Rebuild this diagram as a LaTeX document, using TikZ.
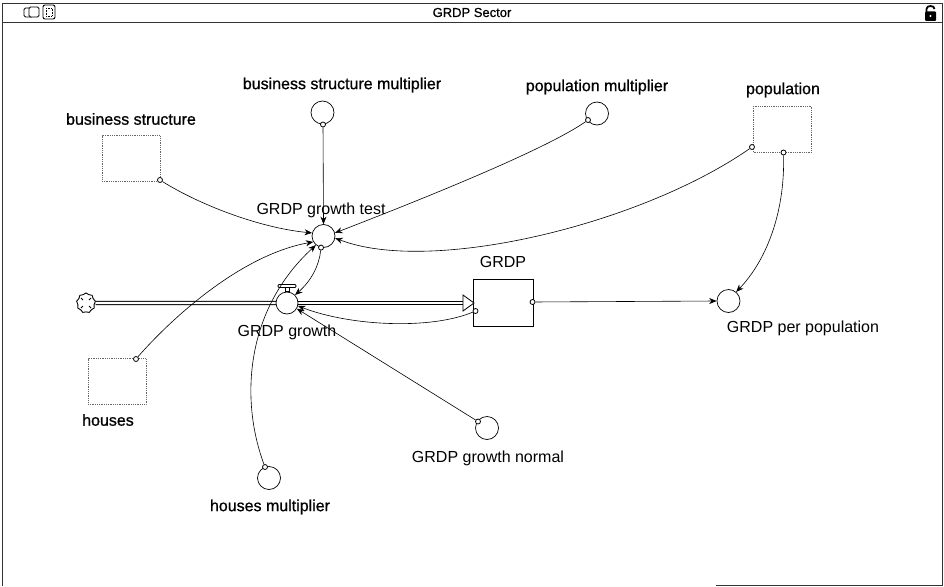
\documentclass[tikz,border=0pt]{standalone}
\usepackage{fontspec}
\setmainfont{Liberation Sans}
\newfontfamily\heavyfont[FakeBold=0.8]{Liberation Sans}
\usetikzlibrary{arrows.meta,shapes.symbols}
\begin{document}
\begin{tikzpicture}[x=1pt,y=-1pt,
 aux/.style={circle, draw, fill=white, minimum size=23pt, inner sep=0pt, line width=0.7pt},
 ghost/.style={draw=black!60, densely dotted, line width=0.8pt, minimum width=58pt, minimum height=46pt, inner sep=0pt},
 stockbox/.style={draw, fill=white, line width=0.8pt, minimum width=60pt, minimum height=47pt, inner sep=0pt},
 tap/.style={circle, draw, fill=white, minimum size=5pt, inner sep=0pt, line width=0.8pt},
 lbl/.style={font=\fontsize{16}{18}\selectfont, inner sep=0pt},
 hlbl/.style={font=\heavyfont\fontsize{16}{18}\selectfont, inner sep=0pt},
 link/.style={line width=0.6pt, -{Stealth[length=7.5pt,width=6pt]}},
 pipe/.style={line width=0.9pt, double distance=2.4pt},
 frame/.style={line width=0.8pt, draw=black!80}
]
\useasboundingbox (0,0) rectangle (944,586);
% window frame
\draw[frame] (2,586) -- (2,3) -- (942,3) -- (942,586);
\draw[frame] (2,22) -- (942,22);
\draw[frame] (716,585) -- (942,585);
\node[font=\heavyfont\fontsize{13}{15}\selectfont, inner sep=0pt] (title) at (472,12.5) {GRDP Sector};
% icons
\draw[line width=0.9pt, rounded corners=1.5pt] (24,8) rectangle (33,17);
\draw[line width=0.9pt, rounded corners=1.5pt, fill=white] (29,7) rectangle (39,17);
\draw[line width=0.9pt, rounded corners=2pt] (43,5) rectangle (55,19);
\draw[line width=0.6pt, densely dotted] (46,8) rectangle (52,16);
% lock
\draw[line width=1.8pt] (926.5,12) -- (926.5,9) .. controls (926.5,5) and (934.5,5) .. (934.5,9);
\fill[rounded corners=1pt] (925,11.5) rectangle (936,21);
\fill[white] (930.5,16) circle (1.1pt);

% stocks and converters
\node[ghost] (bs) at (131,158.5) {};
\node[ghost] (pop) at (782.5,129) {};
\node[ghost] (hs) at (117,381.5) {};
\node[aux] (bsm) at (322.5,112.5) {};
\node[aux] (pm) at (597,113.5) {};
\node[aux] (test) at (323.5,236) {};
\node[aux] (gpp) at (728.5,301) {};
\node[aux] (hm) at (269,478) {};
\node[aux] (gn) at (487,428) {};
\node[stockbox] (grdp) at (503,302.5) {};
\node[cloud, draw, fill=white, cloud puffs=9, cloud puff arc=120, aspect=1, minimum width=19pt, minimum height=20pt, inner sep=0pt, line width=0.9pt] (cloud) at (86,303) {};
\draw[line width=0.8pt] (81,298) -- (83,300) (91,298) -- (89,300) (81,308) -- (83,306) (91,308) -- (89,306);

% flow pipe
\coordinate (pipeend) at (463,303);
\draw[pipe] (cloud.east) -- (276,303);
\draw[pipe] (298,303) -- (pipeend);
\draw[line width=0.8pt, fill=white] (463,295) -- (474,303) -- (463,311) -- cycle;
\node[aux, minimum size=22pt] (gg) at (287,303) {};
% valve
\draw[line width=0.9pt, fill=white, rounded corners=1pt] (278,284.5) rectangle (296,287.5);
\draw[line width=0.8pt, fill=white] (285,287.5) rectangle (289,291.5);

% taps
\node[tap] (bsd) at (160,180) {};
\node[tap] (bsmd) at (323,124.5) {};
\node[tap] (pmd) at (588,120) {};
\node[tap] (popd1) at (752,147) {};
\node[tap] (popd2) at (783.5,152.5) {};
\node[tap] (hsd) at (136,359) {};
\node[tap] (hmd) at (265,467) {};
\node[tap] (gnd) at (478,421.5) {};
\node[tap] (testd) at (test.258) {};
\node[tap] (grdpd1) at (532.5,302) {};
\node[tap] (grdpd2) at (475.5,311) {};

% connectors
\draw[link] (bsd) .. controls (200,205) and (260,228) .. (test.165);
\draw[link] (bsmd) -- (test.90);
\draw[link] (pmd) .. controls (545,150) and (420,200) .. (test.15);
\draw[link] (popd1) .. controls (640,225) and (430,275) .. (test.350);
\draw[link] (popd2) .. controls (785,215) and (765,262) .. (gpp.50);
\draw[link] (hsd) .. controls (170,320) and (240,255) .. (test.210);
\draw[link] (hmd) .. controls (240,400) and (245,310) .. (test.230);
\draw[link] (testd) .. controls (319,266) and (311,281) .. (gg.45);
\draw[link] (grdpd2) .. controls (430,330) and (350,326) .. (gg.345);
\draw[link] (gnd) -- (gg.330);
\draw[link] (grdpd1) -- (gpp.180);

% labels
\node[hlbl] (bsl) at (131,119) {business structure};
\node[hlbl] (bsml) at (342,85) {business structure multiplier};
\node[hlbl] (pml) at (597,87) {population multiplier};
\node[hlbl] (popl) at (783,90) {population};
\node[lbl] (testl) at (321,210) {GRDP growth test};
\node[lbl] (grdpl) at (503,262) {GRDP};
\node[lbl] (ggl) at (287,332) {GRDP growth};
\node[lbl] (gppl) at (803,328) {GRDP per population};
\node[hlbl] (hsl) at (108,420) {houses};
\node[hlbl] (hml) at (270,507) {houses multiplier};
\node[lbl] (gnl) at (488,458) {GRDP growth normal};
\end{tikzpicture}
\end{document}
